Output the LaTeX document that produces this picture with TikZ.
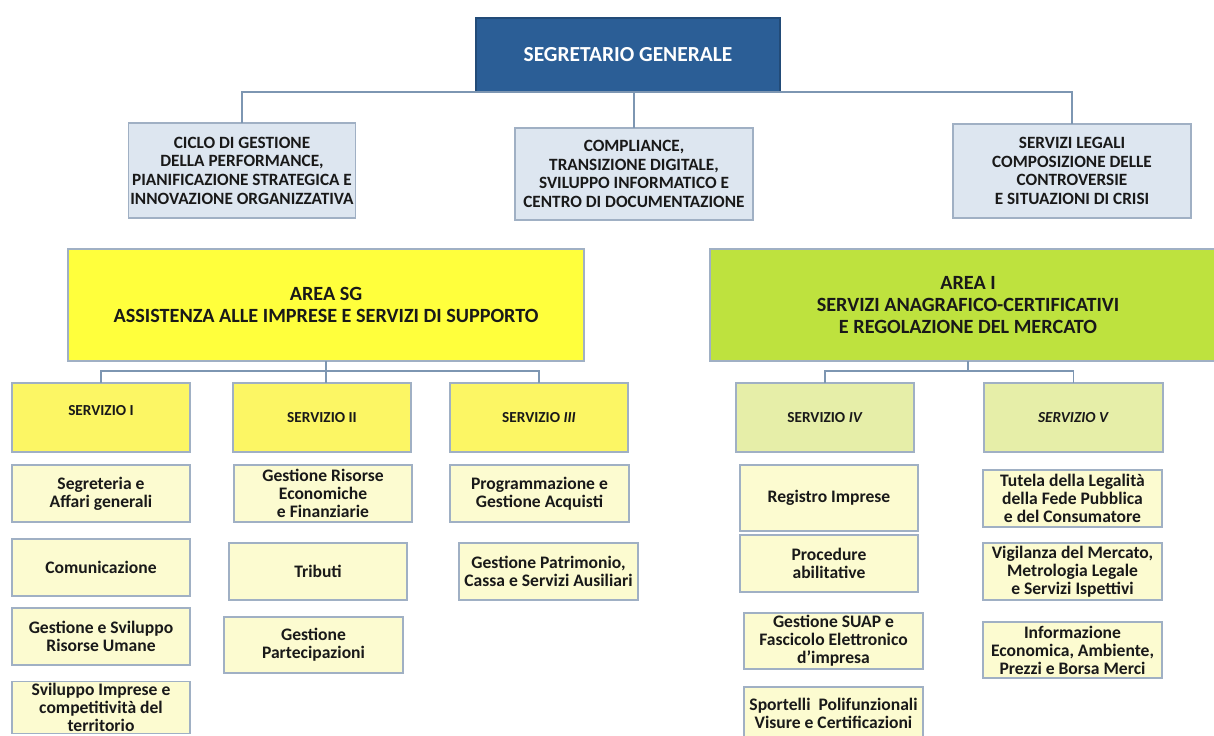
\documentclass[tikz,border=0pt]{standalone}
\usepackage{fontspec}
\setmainfont{Carlito}
\definecolor{sgblue}{RGB}{43,94,150}
\definecolor{staffbg}{RGB}{221,230,240}
\definecolor{areay}{RGB}{255,255,60}
\definecolor{areag}{RGB}{190,226,62}
\definecolor{srvy}{RGB}{252,246,100}
\definecolor{srvg}{RGB}{230,238,168}
\definecolor{uobg}{RGB}{252,251,208}
\definecolor{edge}{RGB}{160,176,196}
\definecolor{conn}{RGB}{125,150,178}
% box from (x1,y1) to (x2,y2), pixel units
\newcommand{\bx}[7]{\node[#2, minimum width={(#5-#3)*0.02cm},
  minimum height={(#6-#4)*0.02cm}] (#1) at ({(#3+#5)/2},{(#4+#6)/2}) {#7};}

\begin{document}
\begin{tikzpicture}[x=0.02cm, y=-0.02cm, every node/.style={align=center,
    inner sep=1pt, outer sep=0pt, text=black!90, font=\bfseries},
    base/.style={draw=edge, line width=0.6pt},
    top/.style={base, fill=sgblue, draw=sgblue!80!black, text=white,
      font=\fontsize{12.2}{14}\selectfont\bfseries},
    staff/.style={base, fill=staffbg, font=\fontsize{9.8}{10.6}\selectfont\bfseries},
    area/.style={base, fill=areay, font=\fontsize{11.5}{12.5}\selectfont\bfseries},
    areagr/.style={area, fill=areag},
    srv/.style={base, fill=srvy, font=\fontsize{8.7}{10}\selectfont\bfseries},
    srvgr/.style={srv, fill=srvg},
    uo/.style={base, fill=uobg, font=\fontsize{10}{10.2}\selectfont\bfseries},
    ln/.style={draw=conn, line width=0.6pt}]
  \useasboundingbox (0,0) rectangle (1214,735);
  \clip (0,0) rectangle (1214,735);

  % vertici
  \bx{sg}{top}{476}{18}{780}{92}{SEGRETARIO GENERALE}
  \bx{c1}{staff}{129}{123}{355}{218}{CICLO DI GESTIONE\\ DELLA PERFORMANCE,\\
    PIANIFICAZIONE STRATEGICA E\\ INNOVAZIONE ORGANIZZATIVA}
  \bx{c2}{staff}{515}{128}{753}{220}{COMPLIANCE,\\ TRANSIZIONE DIGITALE,\\
    SVILUPPO INFORMATICO E\\ CENTRO DI DOCUMENTAZIONE}
  \bx{c3}{staff}{953}{124}{1191}{218}{SERVIZI LEGALI\\ COMPOSIZIONE DELLE\\
    CONTROVERSIE\\ E SITUAZIONI DI CRISI}

  \draw[ln] (c1.north) |- (sg.south) -| (c3.north);
  \draw[ln] (sg.south -| c2.north) -- (c2.north);

  % aree
  \bx{asg}{area}{68}{249}{584}{361}{AREA SG\\
    ASSISTENZA ALLE IMPRESE E SERVIZI DI SUPPORTO}
  \bx{ai}{areagr}{710}{249}{1226}{361}{AREA I\\
    SERVIZI ANAGRAFICO-CERTIFICATIVI\\ E REGOLAZIONE DEL MERCATO}

  % servizi
  \bx{s1}{srv}{12}{383}{190}{452}{SERVIZIO I\\[-2pt]}
  \bx{s2}{srv}{233}{383}{411}{452}{SERVIZIO II}
  \bx{s3}{srv}{450}{383}{628}{452}{SERVIZIO \textit{III}}
  \bx{s4}{srvgr}{736}{383}{914}{452}{SERVIZIO \textit{IV}}
  \bx{s5}{srvgr}{984}{383}{1163}{452}{\textit{SERVIZIO V}}

  \coordinate (jsg) at (325,371);
  \coordinate (ji) at (968,371);
  \draw[ln] (asg.south) -- (asg.south |- s2.north);
  \draw[ln] (s1.north) |- (jsg) -| (s3.north);
  \draw[ln] (ai.south) -- (ji);
  \draw[ln] (s4.north) |- (ji) -| (s5.north);

  % uffici servizio I
  \bx{u11}{uo}{12}{465}{190}{522}{Segreteria e\\ Affari generali}
  \bx{u12}{uo}{12}{539}{190}{596}{Comunicazione}
  \bx{u13}{uo}{12}{608}{190}{665}{Gestione e Sviluppo\\ Risorse Umane}
  \bx{u14}{uo}{12}{682}{190}{733}{Sviluppo Imprese e\\ competitività del\\ territorio}
  % uffici servizio II
  \bx{u21}{uo}{234}{465}{412}{522}{Gestione Risorse\\ Economiche\\ e Finanziarie}
  \bx{u22}{uo}{229}{543}{407}{600}{Tributi}
  \bx{u23}{uo}{224}{617}{403}{673}{Gestione\\ Partecipazioni}
  % uffici servizio III
  \bx{u31}{uo}{450}{465}{629}{522}{Programmazione e\\ Gestione Acquisti}
  \bx{u32}{uo}{459}{543}{638}{600}{Gestione Patrimonio,\\ Cassa e Servizi Ausiliari}
  % uffici servizio IV
  \bx{u41}{uo}{740}{465}{918}{531}{Registro Imprese}
  \bx{u42}{uo}{740}{535}{918}{592}{Procedure\\ abilitative}
  \bx{u43}{uo}{744}{613}{923}{669}{Gestione SUAP e\\ Fascicolo Elettronico\\ d’impresa}
  \bx{u44}{uo}{744}{687}{923}{740}{Sportelli\ \ Polifunzionali\\ Visure e Certificazioni}
  % uffici servizio V
  \bx{u51}{uo}{983}{470}{1162}{527}{Tutela della Legalità\\ della Fede Pubblica\\ e del Consumatore}
  \bx{u52}{uo}{983}{543}{1162}{600}{Vigilanza del Mercato,\\ Metrologia Legale\\ e Servizi Ispettivi}
  \bx{u53}{uo}{983}{622}{1162}{678}{Informazione\\ Economica, Ambiente,\\ Prezzi e Borsa Merci}
\end{tikzpicture}
\end{document}
